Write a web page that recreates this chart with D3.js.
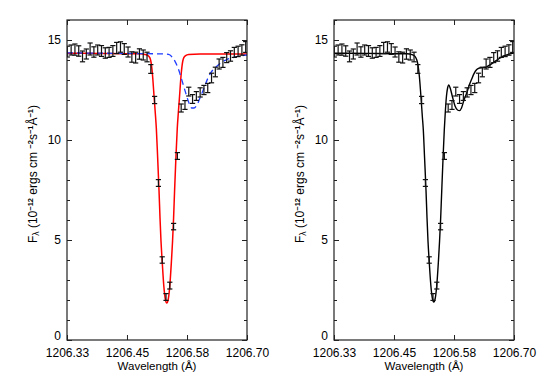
<!DOCTYPE html>
<html>
<head>
<meta charset="utf-8">
<script src="https://cdn.jsdelivr.net/npm/d3@7"></script>
<style>
html,body{margin:0;padding:0;background:#fff;}
svg{display:block;}
text{font-family:"Liberation Sans",Arial,Helvetica,sans-serif;fill:#000;}
</style>
</head>
<body>
<script>
// ---- data ----
const wavelength = [1206.3307,1206.3385,1206.3463,1206.3541,1206.3619,1206.3697,1206.3775,1206.3853,1206.3931,1206.4009,
  1206.4087,1206.4165,1206.4243,1206.4321,1206.4399,1206.4477,1206.4555,1206.4633,1206.4711,1206.4789,
  1206.4867,1206.4945,1206.5023,1206.5101,1206.5179,1206.5257,1206.5335,1206.5413,1206.5491,1206.5569,
  1206.5647,1206.5725,1206.5803,1206.5881,1206.5959,1206.6037,1206.6115,1206.6193,1206.6271,1206.6349,
  1206.6427,1206.6505,1206.6583,1206.6661,1206.6739,1206.6817,1206.6895,1206.6973];
const flux = [14.42,14.50,14.52,14.45,14.18,14.30,14.55,14.40,14.50,14.45,
  14.35,14.38,14.45,14.60,14.65,14.55,14.40,14.15,14.12,14.30,
  14.25,14.15,13.55,12.00,7.85,4.00,2.15,2.72,5.67,9.20,
  11.60,11.75,12.42,12.05,12.20,12.38,12.50,12.60,13.10,13.40,
  13.80,13.88,14.12,14.20,14.38,14.43,14.50,14.65];
const fluxErr = [0.27,0.25,0.28,0.26,0.27,0.25,0.30,0.26,0.25,0.27,
  0.26,0.25,0.27,0.28,0.26,0.27,0.25,0.26,0.27,0.26,
  0.25,0.24,0.22,0.18,0.17,0.16,0.17,0.17,0.16,0.17,
  0.20,0.22,0.22,0.22,0.22,0.23,0.23,0.23,0.24,0.24,
  0.25,0.25,0.25,0.26,0.25,0.26,0.26,0.27];

// single-component fit (red, left panel)
const redWave = [1206.3300,1206.3978,1206.4801,1206.4903,1206.4965,1206.5002,1206.5023,1206.5054,1206.5095,1206.5115,
  1206.5136,1206.5162,1206.5191,1206.5212,1206.5232,1206.5255,1206.5290,1206.5321,1206.5351,1206.5382,
  1206.5413,1206.5448,1206.5470,1206.5491,1206.5512,1206.5540,1206.5567,1206.5588,1206.5608,1206.5649,
  1206.5680,1206.5701,1206.5738,1206.5800,1206.6034,1206.7000];
const redFlux = [14.34,14.33,14.31,14.28,14.22,14.12,13.95,13.35,12.00,11.35,
  10.60,9.20,7.50,6.10,4.95,4.00,2.70,2.05,1.85,2.05,
  2.70,4.00,4.95,6.10,7.50,9.20,10.60,11.35,12.00,13.35,
  13.95,14.12,14.22,14.28,14.30,14.30];

// second component (blue dashed, left panel)
const blueWave = [1206.3300,1206.3978,1206.4801,1206.5315,1206.5417,1206.5458,1206.5520,1206.5582,1206.5623,1206.5685,
  1206.5747,1206.5808,1206.5864,1206.5911,1206.5963,1206.6034,1206.6116,1206.6198,1206.6281,1206.6363,
  1206.6445,1206.6568,1206.6753,1206.7000];
const blueFlux = [14.36,14.34,14.32,14.30,14.25,14.15,13.93,13.60,13.30,12.80,
  12.30,11.85,11.60,11.60,11.72,12.10,12.60,13.10,13.45,13.65,
  13.83,14.00,14.15,14.25];

// combined fit (black, right panel)
const blackWave = [1206.3300,1206.3978,1206.4801,1206.4903,1206.4965,1206.5002,1206.5023,1206.5054,1206.5095,1206.5115,
  1206.5136,1206.5162,1206.5191,1206.5212,1206.5232,1206.5255,1206.5290,1206.5321,1206.5351,1206.5382,
  1206.5413,1206.5448,1206.5470,1206.5491,1206.5512,1206.5540,1206.5567,1206.5588,1206.5612,1206.5635,
  1206.5660,1206.5688,1206.5736,1206.5788,1206.5839,1206.5880,1206.5921,1206.5972,1206.6028,1206.6075,
  1206.6131,1206.6178,1206.6234,1206.6291,1206.6363,1206.6439,1206.6507,1206.6575,1206.6651,1206.6713,
  1206.6785,1206.6857,1206.6939,1206.7000];
const blackFlux = [14.34,14.33,14.31,14.27,14.18,14.00,13.80,13.20,11.90,11.20,
  10.50,9.10,7.50,6.10,4.95,4.00,2.75,2.10,1.90,2.10,
  2.75,4.00,4.95,6.00,7.30,9.00,10.50,11.40,12.20,12.60,
  12.75,12.60,12.15,11.70,11.50,11.47,11.60,12.00,12.35,12.70,
  13.05,13.32,13.52,13.60,13.62,13.66,13.76,13.87,14.00,14.10,
  14.20,14.26,14.32,14.35];

const xTickValues = [1206.33, 1206.4533, 1206.5767, 1206.70];
const xTickLabels = ["1206.33", "1206.45", "1206.58", "1206.70"];
const yMajorTicks = [0, 5, 10, 15];
const yMinorTicks = [1,2,3,4,6,7,8,9,11,12,13,14,16];
const xTitle = "Wavelength (Å)";

// ---- layout ----
const W = 545, H = 382;
const svg = d3.select("body").append("svg").attr("width", W).attr("height", H);
const plotTop = 20, plotBottom = 340;
const panels = [
  {x0: 67, x1: 247, curves: [
     {w: redWave, f: redFlux, color: "#ff0000", width: 1.5, dash: null},
     {w: blueWave, f: blueFlux, color: "#1f3dff", width: 1.3, dash: "6,4"}
  ]},
  {x0: 334, x1: 514, curves: [
     {w: blackWave, f: blackFlux, color: "#000", width: 1.4, dash: null}
  ]}
];

panels.forEach((p, i) => {
  const x = d3.scaleLinear().domain([1206.33, 1206.70]).range([p.x0, p.x1]);
  const y = d3.scaleLinear().domain([0, 16]).range([plotBottom, plotTop]);
  const g = svg.append("g");

  const clipId = "clip" + i;
  svg.append("clipPath").attr("id", clipId).append("rect")
    .attr("x", p.x0).attr("y", plotTop).attr("width", p.x1 - p.x0).attr("height", plotBottom - plotTop);

  // curves
  const line = d3.line().x(d => x(d[0])).y(d => y(d[1])).curve(d3.curveMonotoneX);
  p.curves.forEach(c => {
    g.append("path")
      .datum(c.w.map((w, k) => [w, c.f[k]]))
      .attr("d", line)
      .attr("fill", "none")
      .attr("stroke", c.color)
      .attr("stroke-width", c.width)
      .attr("stroke-dasharray", c.dash)
      .attr("clip-path", `url(#${clipId})`);
  });

  // error bars
  const eb = g.append("g").attr("stroke", "#111").attr("stroke-width", 1.2).attr("clip-path", `url(#${clipId})`);
  const pts = wavelength.map((w, k) => ({w, f: flux[k], e: fluxErr[k]}));
  const capW = 2.6;
  pts.forEach(d => {
    const cx = x(d.w), y1 = y(d.f - d.e), y2 = y(d.f + d.e);
    eb.append("line").attr("x1", cx).attr("x2", cx).attr("y1", y1).attr("y2", y2);
    eb.append("line").attr("x1", cx - capW).attr("x2", cx + capW).attr("y1", y1).attr("y2", y1);
    eb.append("line").attr("x1", cx - capW).attr("x2", cx + capW).attr("y1", y2).attr("y2", y2);
  });

  // axes
  const axB = g.append("g").attr("transform", `translate(0,${plotBottom})`)
    .call(d3.axisBottom(x).tickValues(xTickValues).tickFormat((d, k) => xTickLabels[k]).tickSize(-5).tickSizeOuter(0).tickPadding(8));
  const axT = g.append("g").attr("transform", `translate(0,${plotTop})`)
    .call(d3.axisTop(x).tickValues(xTickValues).tickFormat("").tickSize(-5).tickSizeOuter(0));
  const axL = g.append("g").attr("transform", `translate(${p.x0},0)`)
    .call(d3.axisLeft(y).tickValues(yMajorTicks).tickSize(-5).tickSizeOuter(0).tickPadding(6));
  const axLm = g.append("g").attr("transform", `translate(${p.x0},0)`)
    .call(d3.axisLeft(y).tickValues(yMinorTicks).tickFormat("").tickSize(-3).tickSizeOuter(0));
  const axR = g.append("g").attr("transform", `translate(${p.x1},0)`)
    .call(d3.axisRight(y).tickValues(yMajorTicks).tickFormat("").tickSize(-5).tickSizeOuter(0));
  const axRm = g.append("g").attr("transform", `translate(${p.x1},0)`)
    .call(d3.axisRight(y).tickValues(yMinorTicks).tickFormat("").tickSize(-3).tickSizeOuter(0));
  [axB, axT, axL, axLm, axR, axRm].forEach(a => {
    a.select(".domain").remove();
    a.selectAll(".tick line").attr("stroke", "#222").attr("stroke-width", 1);
    a.selectAll("text").style("font-size", "12px").attr("fill", "#000");
  });
  // lift the "0" label clear of the wavelength labels
  axL.selectAll(".tick").filter(d => d === 0).select("text").attr("dy", "-0.05em");

  // frame
  g.append("rect").attr("x", p.x0).attr("y", plotTop).attr("width", p.x1 - p.x0).attr("height", plotBottom - plotTop)
    .attr("fill", "none").attr("stroke", "#222").attr("stroke-width", 1.2);

  // x title
  g.append("text").attr("x", (p.x0 + p.x1) / 2).attr("y", 370).attr("text-anchor", "middle")
    .style("font-size", "11.5px").text(xTitle);

  // y title
  const yt = g.append("text")
    .attr("transform", `translate(${p.x0 - 30},174) rotate(-90)`)
    .attr("text-anchor", "middle").style("font-size", "12px");
  yt.append("tspan").text("F");
  yt.append("tspan").attr("baseline-shift", "-25%").style("font-size", "8.5px").text("λ");
  yt.append("tspan").text(" (10");
  yt.append("tspan").attr("baseline-shift", "45%").style("font-size", "7.5px").style("font-weight", "bold").text("−12");
  yt.append("tspan").text(" ergs cm  ");
  yt.append("tspan").attr("baseline-shift", "45%").style("font-size", "7.5px").style("font-weight", "bold").text("−2");
  yt.append("tspan").text("s");
  yt.append("tspan").attr("baseline-shift", "45%").style("font-size", "7.5px").style("font-weight", "bold").text("−1");
  yt.append("tspan").text("Å");
  yt.append("tspan").attr("baseline-shift", "45%").style("font-size", "7.5px").style("font-weight", "bold").text("−1");
  yt.append("tspan").text(")");
});
</script>
</body>
</html>
